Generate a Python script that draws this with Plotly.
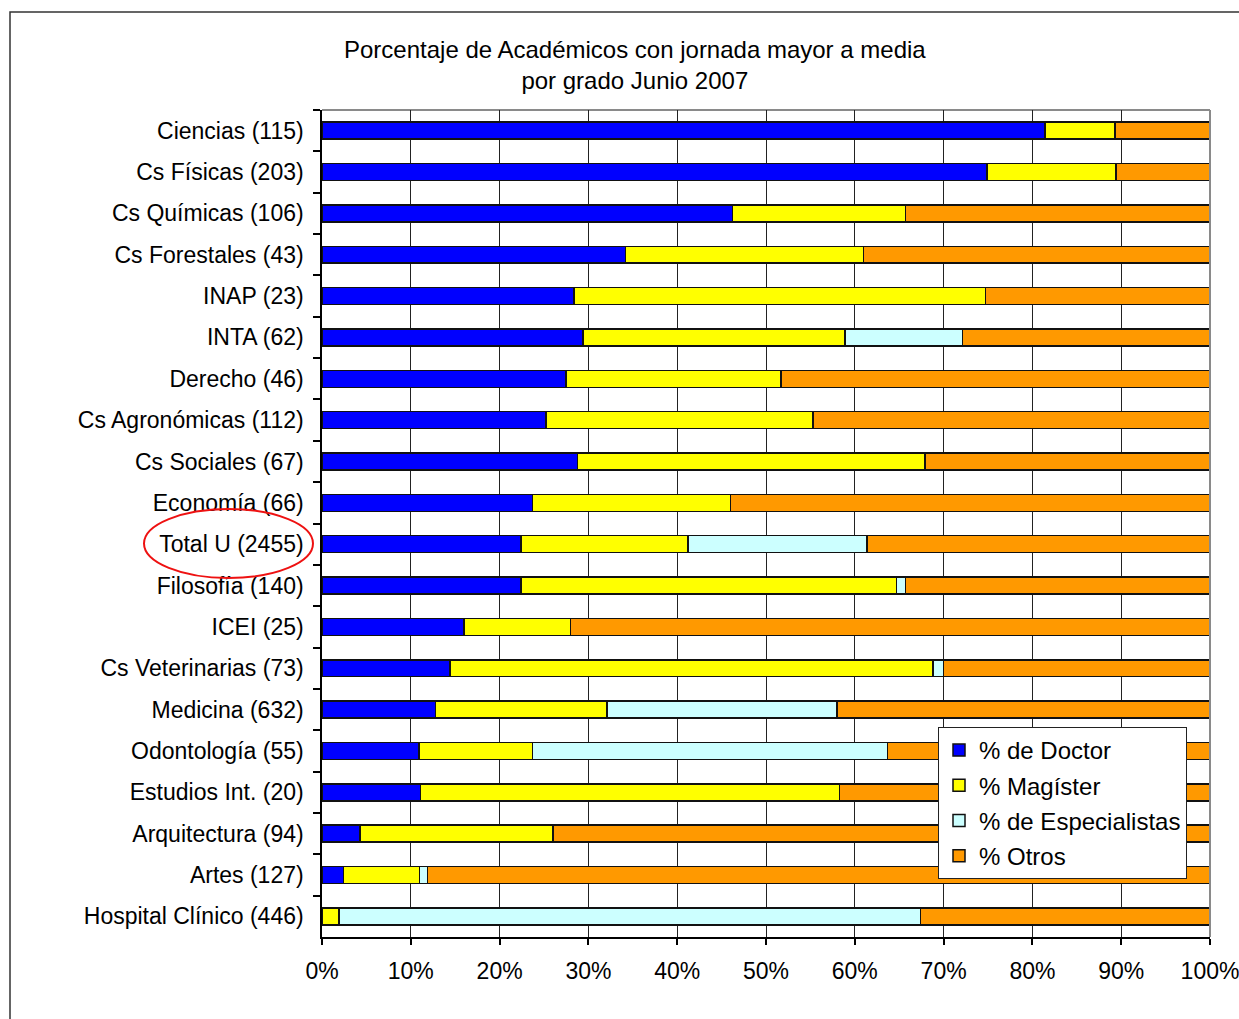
import plotly.graph_objects as go

categories = ["Ciencias (115)", "Cs Físicas (203)", "Cs Químicas (106)", "Cs Forestales (43)",
              "INAP (23)", "INTA (62)", "Derecho (46)", "Cs Agronómicas (112)", "Cs Sociales (67)",
              "Economía (66)", "Total U (2455)", "Filosofía (140)", "ICEI (25)",
              "Cs Veterinarias (73)", "Medicina (632)", "Odontología (55)", "Estudios Int. (20)",
              "Arquitectura (94)", "Artes (127)", "Hospital Clínico (446)"]

pct_doctor = [81.4, 74.9, 46.2, 34.2, 28.4, 29.4, 27.5, 25.2, 28.8, 23.7,
              22.4, 22.4, 16.0, 14.4, 12.8, 10.9, 11.1, 4.3, 2.4, 0.0]
pct_magister = [7.9, 14.5, 19.5, 26.8, 46.3, 29.5, 24.2, 30.1, 39.1, 22.3,
                18.8, 42.3, 12.0, 54.4, 19.3, 12.8, 47.2, 21.7, 8.6, 1.9]
pct_especialistas = [0, 0, 0, 0, 0, 13.2, 0, 0, 0, 0,
                     20.2, 1.0, 0, 1.2, 25.9, 40.0, 0, 0, 0.9, 65.5]
pct_otros = [10.7, 10.6, 34.3, 39.0, 25.3, 27.9, 48.3, 44.7, 32.1, 54.0,
             38.6, 34.3, 72.0, 30.0, 42.0, 36.3, 41.7, 74.0, 88.1, 32.6]

series_names = ["% de Doctor", "% Magíster", "% de Especialistas", "% Otros"]
series_values = [pct_doctor, pct_magister, pct_especialistas, pct_otros]
series_colors = ["#0000FF", "#FFFF00", "#CCFFFF", "#FF9900"]

tick_vals = [0, 10, 20, 30, 40, 50, 60, 70, 80, 90, 100]
tick_text = ["0%", "10%", "20%", "30%", "40%", "50%", "60%", "70%", "80%", "90%", "100%"]

FONT = "Liberation Sans, Arial, sans-serif"

# plot area in pixels
W, H = 1239, 1019
L, R, T, B = 322, 1210, 110, 937
PW, PH = R - L, B - T


def px(x):
    return (x - L) / PW


def py(y):
    return (B - y) / PH


fig = go.Figure()
for i, (name, vals, col) in enumerate(zip(series_names, series_values, series_colors)):
    fig.add_trace(go.Bar(
        y=categories, x=vals, name=name, orientation="h",
        marker=dict(color=col, line=dict(color="#111111", width=1.5)),
        legendgroup=f"g{i}",
    ))

fig.update_layout(
    width=W, height=H,
    barmode="stack", bargap=0.59,
    plot_bgcolor="white", paper_bgcolor="white",
    margin=dict(l=L, r=W - R, t=T, b=H - B, pad=0, autoexpand=False),
    font=dict(family=FONT, size=23, color="black"),
    showlegend=True,
    legend=dict(
        x=px(938), y=py(727), xanchor="left", yanchor="top",
        bgcolor="white", bordercolor="#222222", borderwidth=1,
        font=dict(family=FONT, size=24, color="black"),
        traceorder="grouped", tracegroupgap=1,
        itemwidth=30,
    ),
    xaxis=dict(
        range=[0, 100], tickvals=tick_vals, ticktext=tick_text,
        showgrid=True, gridcolor="#222222", gridwidth=1,
        showline=True, linecolor="black", linewidth=1.5,
        ticks="outside", ticklen=6, tickcolor="black", tickwidth=1.5,
        tickfont=dict(family=FONT, size=23, color="black"),
        ticklabelstandoff=7, ticklabeloverflow="allow", automargin=False,
        zeroline=False, fixedrange=True,
    ),
    yaxis=dict(
        categoryorder="array", categoryarray=categories, autorange="reversed",
        showline=True, linecolor="black", linewidth=1.5,
        ticks="outside", ticklen=7, tickcolor="black", tickwidth=1.5,
        tickson="boundaries", showgrid=False, automargin=False,
        tickfont=dict(family=FONT, size=23, color="black"),
        ticklabelstandoff=12, fixedrange=True,
    ),
    annotations=[dict(
        text="Porcentaje de Académicos con jornada mayor a media<br>por grado Junio 2007",
        xref="paper", yref="paper", x=px(634.5), y=py(64.5),
        xanchor="center", yanchor="middle", showarrow=False,
        font=dict(family=FONT, size=24, color="black"),
    )],
    shapes=[
        # outer frame
        dict(type="rect", xref="paper", yref="paper",
             x0=px(10), y0=py(1040), x1=px(1260), y1=py(12),
             line=dict(color="#333333", width=1.5), layer="below"),
        # plot top and right border (gray)
        dict(type="line", xref="paper", yref="paper", x0=0, x1=1, y0=1, y1=1,
             line=dict(color="#8a8a8a", width=2), layer="below"),
        dict(type="line", xref="paper", yref="paper", x0=1, x1=1, y0=0, y1=1,
             line=dict(color="#8a8a8a", width=2), layer="above"),
        # red ellipse around Total U label
        dict(type="circle", xref="paper", yref="paper",
             x0=px(144), x1=px(313), y0=py(578), y1=py(509),
             line=dict(color="#EE1111", width=2)),
    ],
)

fig.write_html(
    "out.html",
    config={"displayModeBar": False},
    post_script="document.body.style.margin='0';document.body.style.overflow='hidden';",
)
